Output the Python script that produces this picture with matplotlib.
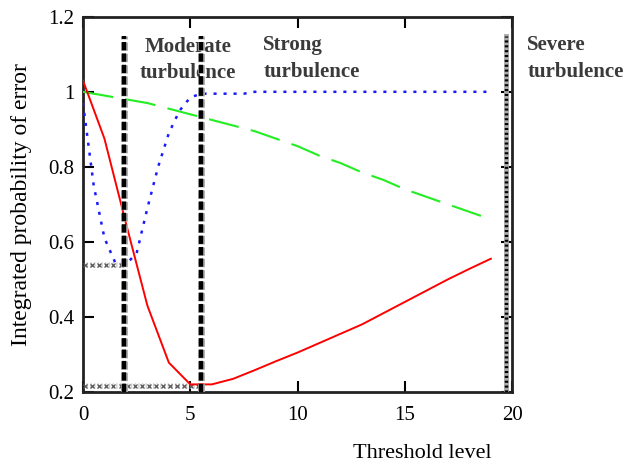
import numpy as np
import matplotlib.pyplot as plt
import matplotlib.patheffects as pe

# values
x_red = [0, 1, 2, 3, 4, 5, 6, 7, 8, 9, 10, 11, 12, 13, 14, 15, 16, 17, 18, 19]
y_red = [1.03, 0.875, 0.65, 0.43, 0.278, 0.22, 0.22, 0.235, 0.258, 0.282, 0.305,
         0.33, 0.355, 0.38, 0.41, 0.44, 0.47, 0.50, 0.528, 0.555]

x_blue = [0, 0.5, 1, 1.5, 2, 2.5, 3, 3.5, 4, 4.5, 5, 5.5, 7.5, 8, 19]
y_blue = [0.97, 0.75, 0.61, 0.545, 0.54, 0.57, 0.69, 0.80, 0.89, 0.95, 0.985,
          0.995, 0.995, 1.0, 1.0]

x_green = [0, 1, 2, 3, 4, 5, 6, 7, 8, 9, 10, 11, 12, 13, 14, 15, 16, 17, 18, 19]
y_green = [1.0, 0.99, 0.98, 0.97, 0.955, 0.94, 0.925, 0.91, 0.895, 0.875, 0.855,
           0.83, 0.81, 0.785, 0.765, 0.74, 0.72, 0.70, 0.68, 0.66]

# region borders and minimum levels
x_moderate = 1.92
x_strong = 5.5
x_severe = 19.7
y_min_blue = 0.537
y_min_red = 0.216
y_border_top = 1.15

regions = ["Moderate\nturbulence", "Strong\nturbulence", "Severe\nturbulence"]

plt.rcParams['font.family'] = ['Liberation Serif', 'DejaVu Serif']
plt.rcParams['lines.scale_dashes'] = False

fig = plt.figure(figsize=(6.24, 4.66), dpi=100)
ax = fig.add_axes([0.133, 0.159, 0.688, 0.805])

# horizontal guide lines with x markers
for y0, x_end in [(y_min_blue, x_moderate), (y_min_red, x_strong)]:
    ax.plot([0, x_end], [y0, y0], color="#d0d0d0", lw=4, ls=":", zorder=2)
    xm = np.arange(0.1, x_end, 0.33)
    ax.plot(xm, [y0] * len(xm), ls="none", marker="x", ms=3.5, mew=0.9,
            color="#555555", zorder=3)

ax.plot(x_green, y_green, color="#22ee22", lw=1.5, dashes=(22, 9), zorder=4)
ax.plot(x_blue, y_blue, color="#1a1aff", lw=1.8, dashes=(2.2, 5), zorder=4)
ax.plot(x_red, y_red, color="red", lw=1.4, zorder=5)

# region borders
halo = [pe.Stroke(linewidth=5, foreground="#b0b0b0"), pe.Normal()]
for xv in [x_moderate, x_strong]:
    ax.plot([xv, xv], [0.2, y_border_top], color="black", lw=3.2,
            dashes=(6, 2.2), path_effects=halo, zorder=7)
ax.plot([x_severe, x_severe], [0.2, y_border_top], color="#aaaaaa", lw=3.5, zorder=6)
ax.plot([x_severe, x_severe], [0.2, y_border_top], color="black", lw=2.5,
        dashes=(1.5, 2), zorder=7)

txt = dict(fontsize=15, fontweight="bold", color="#3a3a3a", va="top",
           linespacing=1.45)
ax.text(4.9, 1.147, regions[0], ha="center", **txt)
ax.text(8.4, 1.152, regions[1], ha="left", **txt)
ax.text(20.7, 1.152, regions[2], ha="left", clip_on=False, **txt)

ax.set_xlim(0, 20)
ax.set_ylim(0.2, 1.2)
ax.set_xticks([0, 5, 10, 15, 20])
ax.set_yticks([0.2, 0.4, 0.6, 0.8, 1.0, 1.2])
ax.set_yticklabels(["0.2", "0.4", "0.6", "0.8", "1", "1.2"])
ax.tick_params(direction="in", length=8, width=1.5, labelsize=15, top=True,
               right=True, pad=6)
ax.tick_params(axis="x", pad=10)

for s in ax.spines.values():
    s.set_linewidth(2)
    s.set_color("#222222")

ax.set_ylabel("Integrated probability of error", fontsize=17)
ax.yaxis.set_label_coords(-0.118, 0.5)
ax.set_xlabel("Threshold level", fontsize=16)
ax.xaxis.set_label_coords(0.79, -0.14)

fig.savefig("out.png", dpi=100)
